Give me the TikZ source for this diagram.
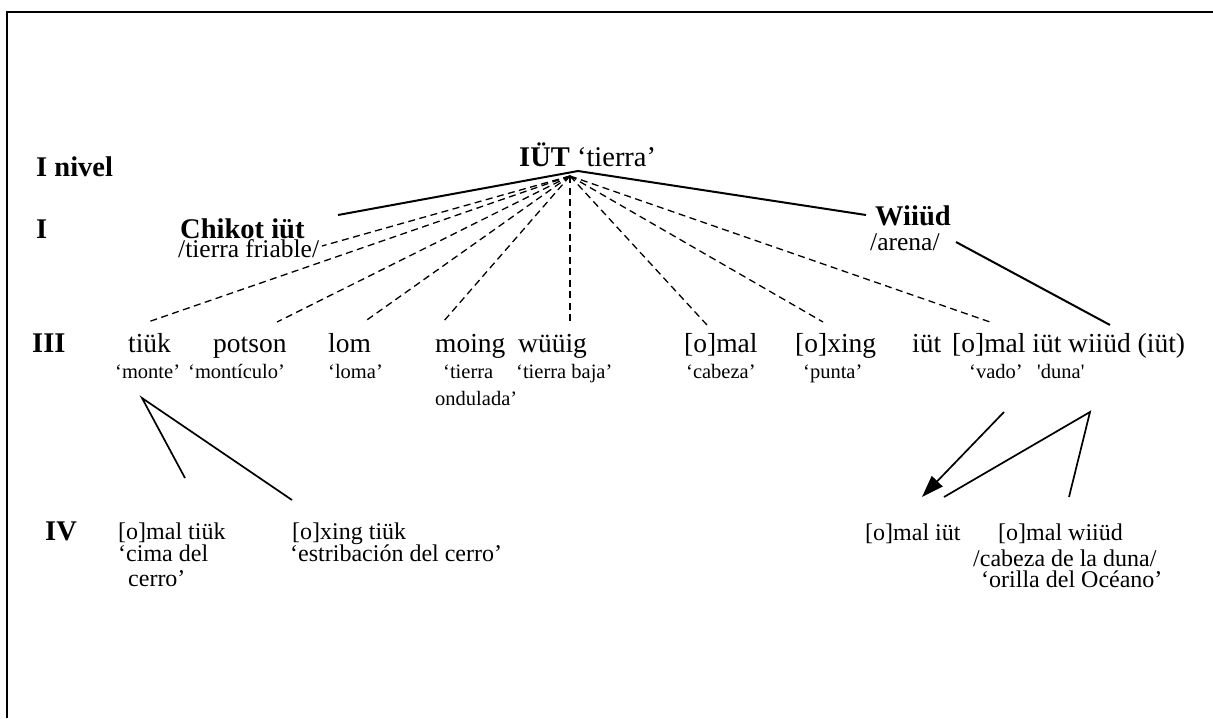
\documentclass[tikz,border=0pt]{standalone}
\usepackage{fontspec}
\setmainfont{Liberation Serif}
\usetikzlibrary{arrows.meta}
\begin{document}
\begin{tikzpicture}[x=1pt,y=-1pt,
  txt/.style={anchor=base west,inner sep=0pt,font=\fontsize{27.5}{29}\selectfont},
  lbl/.style={anchor=base west,inner sep=0pt,font=\fontsize{28.5}{30}\selectfont\bfseries},
  gl/.style={anchor=base west,inner sep=0pt,font=\fontsize{20.5}{22}\selectfont},
  sub/.style={anchor=base west,inner sep=0pt,font=\fontsize{24}{25}\selectfont},
  solidline/.style={line width=2pt},
  dashline/.style={line width=1.3pt,dash pattern=on 7pt off 4.5pt},
  thinline/.style={line width=1.7pt},
  frameline/.style={line width=2.4pt}]
\useasboundingbox (0,0) rectangle (1213,718);
% frame
\draw[frameline] (7,718) -- (7,12) -- (1213,12);

% level labels
\node[lbl] (n1) at (36,176) {I nivel};
\node[lbl] (n2) at (36,238) {I};
\node[lbl] (n3) at (32,352) {III};
\node[lbl] (n4) at (45,540) {IV};

% top
\node[txt,font=\fontsize{28.5}{30}\selectfont] (iut) at (519,166) {\textbf{IÜT} ‘tierra’};
\node[lbl] (chikot) at (180,238) {Chikot iüt};
\node[txt,font=\fontsize{25.5}{27}\selectfont] (friable) at (178,257) {/tierra friable/};
\node[lbl] (wiiud) at (875,225) {Wiiüd};
\node[txt,font=\fontsize{25.5}{27}\selectfont] (arena) at (870,250) {/arena/};

% row III
\node[txt] (tiuk) at (128,352) {tiük};
\node[txt] (potson) at (213,352) {potson};
\node[txt] (lom) at (328,352) {lom};
\node[txt] (moing) at (435,352) {moing};
\node[txt] (wuuig) at (518,352) {wüüig};
\node[txt] (omal) at (684,352) {[o]mal};
\node[txt] (oxing) at (795,352) {[o]xing};
\node[txt] (iut3) at (912,352) {iüt};
\node[txt] (omaliut) at (952,352) {[o]mal iüt};
\node[txt] (wiiudiut) at (1068,352) {wiiüd (iüt)};

% glosses
\node[gl] (gmonte) at (115,378) {‘monte’};
\node[gl] (gmonticulo) at (188,378) {‘montículo’};
\node[gl] (gloma) at (328,378) {‘loma’};
\node[gl] (gtierra) at (443,378) {‘tierra};
\node[gl] (gondulada) at (435,405) {ondulada’};
\node[gl] (gbaja) at (516,378) {‘tierra baja’};
\node[gl] (gcabeza) at (686,378) {‘cabeza’};
\node[gl] (gpunta) at (803,378) {‘punta’};
\node[gl] (gvado) at (969,378) {‘vado’};
\node[gl] (gduna) at (1037,378) {\textquotesingle duna\textquotesingle};

% row IV
\node[sub] (omaltiuk) at (118,539) {[o]mal tiük};
\node[sub] (cima) at (118,561) {‘cima del};
\node[sub] (cerro) at (128,586) {cerro’};
\node[sub] (oxingtiuk) at (292,539) {[o]xing tiük};
\node[sub] (estrib) at (290,561) {‘estribación del cerro’};
\node[sub] (omaliut4) at (865,540) {[o]mal iüt};
\node[sub] (omalwiiud) at (998,540) {[o]mal wiiüd};
\node[sub] (cabduna) at (973,566) {/cabeza de la duna/};
\node[sub] (orilla) at (981,587) {‘orilla del Océano’};

% connector points
\coordinate (top) at (578,171);
\coordinate (hub) at (570,176);
\coordinate (eChik) at (338,215);
\coordinate (eWi) at (866,215);
\coordinate (eFri) at (322,246);
\coordinate (eTiuk) at (148,322);
\coordinate (ePot) at (277,322);
\coordinate (eLom) at (364,322);
\coordinate (eMoing) at (443,322);
\coordinate (eWuuig) at (570,322);
\coordinate (eOmal) at (707,325);
\coordinate (eOxing) at (823,322);
\coordinate (eOmalIut) at (990,322);
\coordinate (eAr) at (956,242);
\coordinate (eWiIut) at (1110,325);
\coordinate (mTop) at (142,398);
\coordinate (mA) at (185,478);
\coordinate (mB) at (292,500);
\coordinate (vTop) at (1004,412);
\coordinate (vTip) at (922,497);
\coordinate (dTop) at (1090,412);
\coordinate (dA) at (944,497);
\coordinate (dB) at (1069,497);

% solid from IÜT
\draw[solidline] (eChik) -- (top) -- (eWi);
% dashed fan
\foreach \e in {eFri,eTiuk,ePot,eLom,eMoing,eWuuig,eOmal,eOxing,eOmalIut}
  \draw[dashline] (hub) -- (\e);
% arena to wiiud (iüt)
\draw[solidline] (eAr) -- (eWiIut);
% monte
\draw[thinline] (mA) -- (mTop) -- (mB);
% vado arrow
\draw[thinline,-{Triangle[length=22pt,width=15pt]}] (vTop) -- (vTip);
% duna
\draw[thinline] (dA) -- (dTop) -- (dB);
\end{tikzpicture}
\end{document}
